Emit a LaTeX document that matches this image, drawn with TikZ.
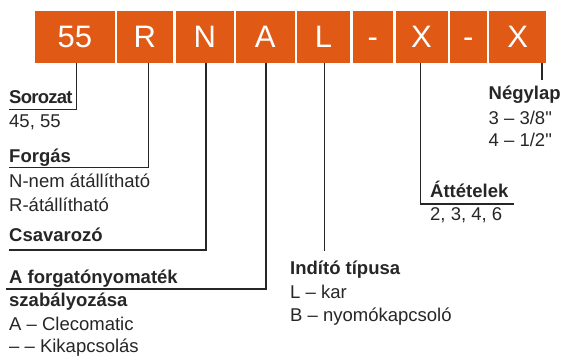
\documentclass[tikz,border=0pt]{standalone}
\usepackage{fontspec}
\setmainfont{Liberation Sans}
\newfontfamily\qfont{Liberation Sans}
\definecolor{org}{HTML}{E05A16}
\definecolor{ink}{HTML}{262626}
\begin{document}
\begin{tikzpicture}[x=1pt,y=-1pt,
  box/.style={fill=org, text=white, inner sep=0, minimum height=51.3, font=\fontsize{31}{31}\selectfont, anchor=north west},
  conn/.style={draw=ink, line width=1.4pt, line join=miter},
  head/.style={anchor=base west, inner sep=0, font=\fontsize{18.5}{22}\selectfont\bfseries, text=ink},
  item/.style={anchor=base west, inner sep=0, font=\fontsize{18.5}{22}\selectfont, text=ink}]
\useasboundingbox (0,0) rectangle (561,360);
% code boxes
\node[box,minimum width=79.3] (b1) at (35,11) {\vphantom{X}55};
\node[box,minimum width=56] (b2) at (116.7,11) {\vphantom{X}R};
\node[box,minimum width=57.6] (b3) at (175.7,11) {\vphantom{X}N};
\node[box,minimum width=58.6] (b4) at (235.7,11) {\vphantom{X}A};
\node[box,minimum width=53.3] (b5) at (296.7,11) {\vphantom{X}L};
\node[box,minimum width=40.4] (b6) at (352.3,11) {\vphantom{X}-};
\node[box,minimum width=52] (b7) at (395.3,11) {\vphantom{X}X};
\node[box,minimum width=37.4] (b8) at (449.3,11) {\vphantom{X}-};
\node[box,minimum width=57] (b9) at (489,11) {\vphantom{X}X};
% labels left
\node[head] (sor) at (9,103.3) {\addfontfeature{LetterSpace=-4}Sorozat};
\node[item] (sor1) at (9,127.7) {45, 55};
\node[head] (forg) at (9,162.7) {Forgás};
\node[item] (forg1) at (9,187.7) {N-nem átállítható};
\node[item] (forg2) at (9,211) {R-átállítható};
\node[head] (csav) at (9,241.7) {Csavarozó};
\node[head] (nyom) at (9,283.3) {A forgatónyomaték};
\node[head] (nyom0) at (9,306.7) {szabályozása};
\node[item] (nyom1) at (9,330) {A – Clecomatic};
\node[item] (nyom2) at (9,352.7) {– – Kikapcsolás};
% labels right
\node[head] (ind) at (290,274) {Indító típusa};
\node[item] (ind1) at (290,298.3) {L – kar};
\node[item] (ind2) at (290,321.7) {B – nyomókapcsoló};
\node[head] (att) at (430,197.5) {Áttételek};
\node[item] (att1) at (430,220.5) {2, 3, 4, 6};
\node[head] (negy) at (488.5,99.5) {Négylap};
\node[item] (negy1) at (488.5,124.3) {3 – 3/8{\qfont "}};
\node[item] (negy2) at (488.5,146) {4 – 1/2{\qfont "}};
% connectors
\coordinate (k1) at (76.7,109.3);
\coordinate (k2) at (148.5,167.3);
\coordinate (k3) at (205.8,250);
\coordinate (k4) at (266,289);
\coordinate (k5) at (324.3,251);
\coordinate (k6) at (420.5,204);
\coordinate (k6e) at (514,204);
\coordinate (k7) at (542,80);
\draw[conn] (b1.south -| k1) -- (k1) -- (k1 -| sor.west);
\draw[conn] (b2.south -| k2) -- (k2) -- (k2 -| forg.west);
\draw[conn] (b3.south -| k3) -- (k3) -- (k3 -| csav.west);
\draw[conn] (b4.south -| k4) -- (k4) -- ([xshift=-3pt]k4 -| nyom.west);
\draw[conn] (b5.south -| k5) -- (k5);
\draw[conn] (b7.south -| k6) -- (k6) -- (k6e);
\draw[conn] (b9.south -| k7) -- (k7);
\end{tikzpicture}
\end{document}
